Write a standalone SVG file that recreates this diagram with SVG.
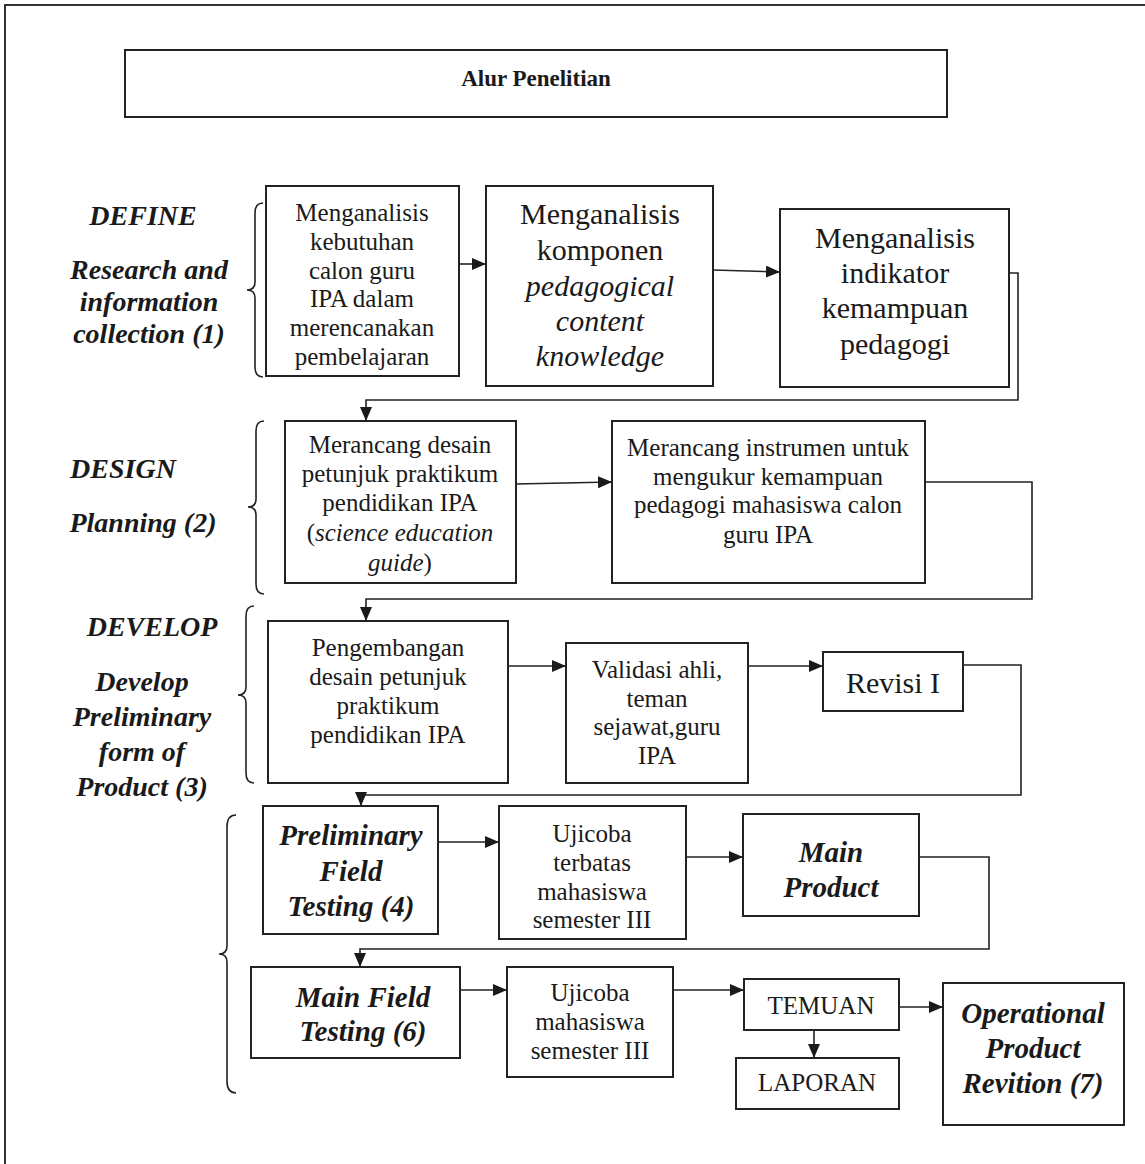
<svg xmlns="http://www.w3.org/2000/svg" width="1145" height="1164" viewBox="0 0 1145 1164">
<defs>
<style>
.box{fill:#fff;stroke:#222;stroke-width:2}
.t{font-family:"Liberation Serif","Times New Roman",serif;fill:#1a1a1a;text-anchor:middle}
.s{font-size:25px}
.m{font-size:30px}
.i{font-style:italic}
.bi{font-weight:bold;font-style:italic;font-size:29px}
.lbl{font-weight:bold;font-style:italic;font-size:28px}
.c{fill:none;stroke:#222;stroke-width:1.6}
.br{fill:none;stroke:#222;stroke-width:1.6}
</style>
<marker id="ah" viewBox="0 0 14 12" refX="14" refY="6" markerWidth="14" markerHeight="12" markerUnits="userSpaceOnUse" orient="auto">
<path d="M0,0 L14,6 L0,12 Z" fill="#1a1a1a"/>
</marker>
</defs>
<rect x="0" y="0" width="1145" height="1164" fill="#fff"/>
<path d="M5,1164 L5,5 L1145,5" fill="none" stroke="#333" stroke-width="2"/>

<g id="title">
<rect class="box" x="125" y="50" width="822" height="67"/>
<text class="t" x="536" y="86" font-size="23" font-weight="bold">Alur Penelitian</text>
</g>

<g id="labels">
<text class="t lbl" x="143" y="225" font-size="29">DEFINE</text>
<text class="t lbl" x="149" y="279">Research and</text>
<text class="t lbl" x="149" y="311">information</text>
<text class="t lbl" x="149" y="343">collection (1)</text>
<text class="t lbl" x="123" y="478" font-size="29">DESIGN</text>
<text class="t lbl" x="143" y="532">Planning (2)</text>
<text class="t lbl" x="152" y="636" font-size="29">DEVELOP</text>
<text class="t lbl" x="142" y="691">Develop</text>
<text class="t lbl" x="142" y="726">Preliminary</text>
<text class="t lbl" x="142" y="761">form of</text>
<text class="t lbl" x="142" y="796">Product (3)</text>
</g>

<g id="braces">
<path class="br" d="M263,203 Q255,203 255,213 L255,282 Q255,290 247,290 Q255,290 255,298 L255,367 Q255,377 263,377"/>
<path class="br" d="M264,421 Q256,421 256,431 L256,499 Q256,507 248,507 Q256,507 256,515 L256,584 Q256,594 264,594"/>
<path class="br" d="M254,606 Q246,606 246,616 L246,687 Q246,695 238,695 Q246,695 246,703 L246,773 Q246,783 254,783"/>
<path class="br" d="M236,815 Q227,815 227,827 L227,946 Q227,954 219,954 Q227,954 227,962 L227,1081 Q227,1093 236,1093"/>
</g>

<g id="n1">
<rect class="box" x="266" y="186" width="193" height="190"/>
<text class="t s" x="362" y="221">Menganalisis</text>
<text class="t s" x="362" y="250">kebutuhan</text>
<text class="t s" x="362" y="279">calon guru</text>
<text class="t s" x="362" y="307">IPA dalam</text>
<text class="t s" x="362" y="336">merencanakan</text>
<text class="t s" x="362" y="365">pembelajaran</text>
</g>
<g id="n2">
<rect class="box" x="486" y="186" width="227" height="200"/>
<text class="t m" x="600" y="224">Menganalisis</text>
<text class="t m" x="600" y="260">komponen</text>
<text class="t m i" x="600" y="296">pedagogical</text>
<text class="t m i" x="600" y="331">content</text>
<text class="t m i" x="600" y="366">knowledge</text>
</g>
<g id="n3">
<rect class="box" x="780" y="209" width="229" height="178"/>
<text class="t m" x="895" y="248">Menganalisis</text>
<text class="t m" x="895" y="283">indikator</text>
<text class="t m" x="895" y="318">kemampuan</text>
<text class="t m" x="895" y="354">pedagogi</text>
</g>

<g id="d1">
<rect class="box" x="285" y="421" width="231" height="162"/>
<text class="t s" x="400" y="453">Merancang desain</text>
<text class="t s" x="400" y="482">petunjuk praktikum</text>
<text class="t s" x="400" y="511">pendidikan IPA</text>
<text class="t s" x="400" y="541">(<tspan class="i">science education</tspan></text>
<text class="t s" x="400" y="571"><tspan class="i">guide</tspan>)</text>
</g>
<g id="d2">
<rect class="box" x="612" y="421" width="313" height="162"/>
<text class="t s" x="768" y="456">Merancang instrumen untuk</text>
<text class="t s" x="768" y="485">mengukur kemampuan</text>
<text class="t s" x="768" y="513">pedagogi mahasiswa calon</text>
<text class="t s" x="768" y="543">guru IPA</text>
</g>

<g id="v1">
<rect class="box" x="268" y="621" width="240" height="162"/>
<text class="t s" x="388" y="656">Pengembangan</text>
<text class="t s" x="388" y="685">desain petunjuk</text>
<text class="t s" x="388" y="714">praktikum</text>
<text class="t s" x="388" y="743">pendidikan IPA</text>
</g>
<g id="v2">
<rect class="box" x="566" y="643" width="182" height="140"/>
<text class="t s" x="657" y="678">Validasi ahli,</text>
<text class="t s" x="657" y="707">teman</text>
<text class="t s" x="657" y="735">sejawat,guru</text>
<text class="t s" x="657" y="764">IPA</text>
</g>
<g id="v3">
<rect class="box" x="823" y="652" width="140" height="59"/>
<text class="t m" x="893" y="693">Revisi I</text>
</g>

<g id="t1">
<rect class="box" x="263" y="806" width="175" height="128"/>
<text class="t bi" x="351" y="845">Preliminary</text>
<text class="t bi" x="351" y="881">Field</text>
<text class="t bi" x="351" y="916">Testing (4)</text>
</g>
<g id="t2">
<rect class="box" x="499" y="806" width="187" height="133"/>
<text class="t s" x="592" y="842">Ujicoba</text>
<text class="t s" x="592" y="871">terbatas</text>
<text class="t s" x="592" y="900">mahasiswa</text>
<text class="t s" x="592" y="928">semester III</text>
</g>
<g id="t3">
<rect class="box" x="743" y="814" width="176" height="102"/>
<text class="t bi" x="831" y="862">Main</text>
<text class="t bi" x="831" y="897">Product</text>
</g>

<g id="t4">
<rect class="box" x="251" y="967" width="209" height="91"/>
<text class="t bi" x="363" y="1007">Main Field</text>
<text class="t bi" x="363" y="1041">Testing (6)</text>
</g>
<g id="t5">
<rect class="box" x="507" y="967" width="166" height="110"/>
<text class="t s" x="590" y="1001">Ujicoba</text>
<text class="t s" x="590" y="1030">mahasiswa</text>
<text class="t s" x="590" y="1059">semester III</text>
</g>
<g id="temuan">
<rect class="box" x="744" y="979" width="155" height="51"/>
<text class="t s" x="821" y="1014">TEMUAN</text>
</g>
<g id="laporan">
<rect class="box" x="736" y="1058" width="163" height="51"/>
<text class="t s" x="817" y="1091">LAPORAN</text>
</g>
<g id="op">
<rect class="box" x="943" y="983" width="181" height="142"/>
<text class="t bi" x="1033" y="1023">Operational</text>
<text class="t bi" x="1033" y="1058">Product</text>
<text class="t bi" x="1033" y="1093">Revition (7)</text>
</g>

<g id="connectors">
<path class="c" d="M459,264 L486,264" marker-end="url(#ah)"/>
<path class="c" d="M713,270 L780,272" marker-end="url(#ah)"/>
<path class="c" d="M1009,273 L1018,273 L1018,400 L366,400 L366,421" marker-end="url(#ah)"/>
<path class="c" d="M516,484 L612,482" marker-end="url(#ah)"/>
<path class="c" d="M925,482 L1032,482 L1032,599 L366,599 L366,621" marker-end="url(#ah)"/>
<path class="c" d="M508,666 L566,666" marker-end="url(#ah)"/>
<path class="c" d="M748,666 L823,666" marker-end="url(#ah)"/>
<path class="c" d="M963,665 L1021,665 L1021,795 L361,795 L361,806" marker-end="url(#ah)"/>
<path class="c" d="M438,842 L499,842" marker-end="url(#ah)"/>
<path class="c" d="M686,857 L743,857" marker-end="url(#ah)"/>
<path class="c" d="M919,857 L989,857 L989,949 L360,949 L360,967" marker-end="url(#ah)"/>
<path class="c" d="M460,990 L507,990" marker-end="url(#ah)"/>
<path class="c" d="M673,990 L744,990" marker-end="url(#ah)"/>
<path class="c" d="M814,1030 L814,1058" marker-end="url(#ah)"/>
<path class="c" d="M899,1007 L943,1007" marker-end="url(#ah)"/>
</g>
</svg>
